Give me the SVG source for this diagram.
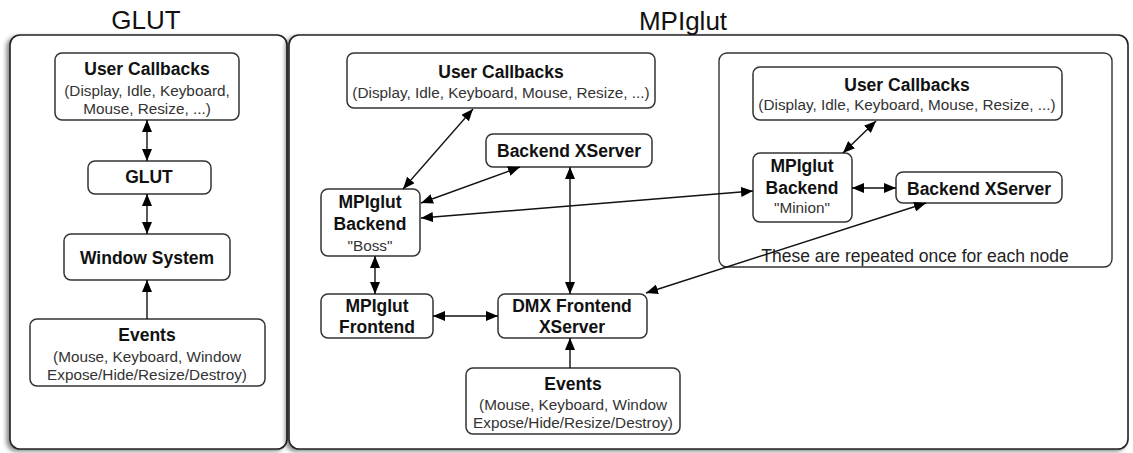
<svg xmlns="http://www.w3.org/2000/svg" width="1133" height="453" viewBox="0 0 1133 453">
<defs>
<marker id="ah" markerUnits="userSpaceOnUse" markerWidth="13" markerHeight="10" refX="12" refY="5" orient="auto-start-reverse" viewBox="0 0 13 10">
<path d="M0,0 L12,5 L0,10 Z" fill="#000"/>
</marker>
<filter id="sh" x="-5%" y="-5%" width="110%" height="110%">
<feGaussianBlur in="SourceAlpha" stdDeviation="2"/>
<feOffset dx="-3" dy="2" result="b"/>
<feComponentTransfer><feFuncA type="linear" slope="0.45"/></feComponentTransfer>
<feMerge><feMergeNode/><feMergeNode in="SourceGraphic"/></feMerge>
</filter>
</defs>
<style>
.cont{fill:#fff;stroke:#222;stroke-width:1.6}
.inner{fill:#fff;stroke:#333;stroke-width:1.4}
.box{fill:#fff;stroke:#333;stroke-width:1.5}
.t{font-family:"Liberation Sans",Arial,sans-serif;font-size:17.5px;font-weight:bold;fill:#111;text-anchor:middle}
.s{font-family:"Liberation Sans",Arial,sans-serif;font-size:15.3px;fill:#333;text-anchor:middle}
.h{font-family:"Liberation Sans",Arial,sans-serif;font-size:26px;fill:#111;text-anchor:middle}
.n{font-family:"Liberation Sans",Arial,sans-serif;font-size:17.5px;fill:#222;text-anchor:middle}
.e{fill:none;stroke:#111;stroke-width:1.4}
</style>
<g id="glut-container">
<rect class="cont" x="10" y="35" width="277" height="414" rx="10" filter="url(#sh)"/>
<text class="h" x="146" y="29">GLUT</text>
</g>
<g id="mpiglut-container">
<rect class="cont" x="289" y="35" width="839" height="414" rx="10" filter="url(#sh)"/>
<text class="h" x="683" y="30">MPIglut</text>
</g>
<g id="repeated-container">
<rect class="inner" x="719" y="53" width="393" height="214" rx="8"/>
<text class="n" x="915" y="262">These are repeated once for each node</text>
</g>
<g id="glut-user-callbacks">
<rect class="box" x="55" y="53" width="184" height="67" rx="7"/>
<text class="t" x="147" y="75">User Callbacks</text>
<text class="s" x="147" y="96">(Display, Idle, Keyboard,</text>
<text class="s" x="147" y="114">Mouse, Resize, ...)</text>
</g>
<g id="glut-glut">
<rect class="box" x="88" y="161" width="123" height="33" rx="7"/>
<text class="t" x="149" y="183">GLUT</text>
</g>
<g id="glut-window-system">
<rect class="box" x="64" y="234" width="166" height="46" rx="7"/>
<text class="t" x="147" y="264">Window System</text>
</g>
<g id="glut-events">
<rect class="box" x="30" y="319" width="235" height="67" rx="7"/>
<text class="t" x="147" y="341">Events</text>
<text class="s" x="147" y="362">(Mouse, Keyboard, Window</text>
<text class="s" x="147" y="380">Expose/Hide/Resize/Destroy)</text>
</g>
<g id="mpi-user-callbacks">
<rect class="box" x="347" y="53" width="308" height="55" rx="7"/>
<text class="t" x="501" y="78">User Callbacks</text>
<text class="s" x="501" y="98">(Display, Idle, Keyboard, Mouse, Resize, ...)</text>
</g>
<g id="mpi-backend-xserver">
<rect class="box" x="486" y="134" width="166" height="33" rx="7"/>
<text class="t" x="569" y="157">Backend XServer</text>
</g>
<g id="mpi-backend-boss">
<rect class="box" x="321" y="189" width="99" height="67" rx="7"/>
<text class="t" x="370" y="208">MPIglut</text>
<text class="t" x="370" y="230">Backend</text>
<text class="s" x="370" y="251">"Boss"</text>
</g>
<g id="mpi-frontend">
<rect class="box" x="321" y="294" width="112" height="44" rx="7"/>
<text class="t" x="377" y="312">MPIglut</text>
<text class="t" x="377" y="333">Frontend</text>
</g>
<g id="dmx-frontend">
<rect class="box" x="498" y="294" width="149" height="44" rx="7"/>
<text class="t" x="572" y="312">DMX Frontend</text>
<text class="t" x="572" y="333">XServer</text>
</g>
<g id="mpi-events">
<rect class="box" x="466" y="368" width="214" height="66" rx="7"/>
<text class="t" x="573" y="390">Events</text>
<text class="s" x="573" y="410">(Mouse, Keyboard, Window</text>
<text class="s" x="573" y="428">Expose/Hide/Resize/Destroy)</text>
</g>
<g id="minion-user-callbacks">
<rect class="box" x="753" y="67" width="309" height="53" rx="7"/>
<text class="t" x="907" y="91">User Callbacks</text>
<text class="s" x="907" y="110">(Display, Idle, Keyboard, Mouse, Resize, ...)</text>
</g>
<g id="minion-backend">
<rect class="box" x="753" y="153" width="99" height="69" rx="7"/>
<text class="t" x="802" y="172">MPIglut</text>
<text class="t" x="802" y="194">Backend</text>
<text class="s" x="802" y="213">"Minion"</text>
</g>
<g id="minion-backend-xserver">
<rect class="box" x="896" y="172" width="166" height="31" rx="7"/>
<text class="t" x="979" y="195">Backend XServer</text>
</g>
<g id="connectors">
<line class="e" x1="147" y1="120" x2="147" y2="161" marker-start="url(#ah)" marker-end="url(#ah)"/>
<line class="e" x1="147" y1="194" x2="147" y2="234" marker-start="url(#ah)" marker-end="url(#ah)"/>
<line class="e" x1="147" y1="319" x2="147" y2="280" marker-end="url(#ah)"/>
<line class="e" x1="473" y1="109" x2="403" y2="189" marker-start="url(#ah)" marker-end="url(#ah)"/>
<line class="e" x1="520" y1="167" x2="421" y2="203" marker-start="url(#ah)" marker-end="url(#ah)"/>
<line class="e" x1="421" y1="218" x2="753" y2="191" marker-start="url(#ah)" marker-end="url(#ah)"/>
<line class="e" x1="570" y1="167" x2="570" y2="294" marker-start="url(#ah)" marker-end="url(#ah)"/>
<line class="e" x1="646" y1="293" x2="926" y2="203" marker-start="url(#ah)" marker-end="url(#ah)"/>
<line class="e" x1="375" y1="256" x2="375" y2="294" marker-start="url(#ah)" marker-end="url(#ah)"/>
<line class="e" x1="433" y1="316" x2="498" y2="316" marker-start="url(#ah)" marker-end="url(#ah)"/>
<line class="e" x1="570" y1="368" x2="570" y2="338" marker-end="url(#ah)"/>
<line class="e" x1="876" y1="121" x2="843" y2="153" marker-start="url(#ah)" marker-end="url(#ah)"/>
<line class="e" x1="852" y1="188" x2="896" y2="188" marker-start="url(#ah)" marker-end="url(#ah)"/>
</g>
</svg>
